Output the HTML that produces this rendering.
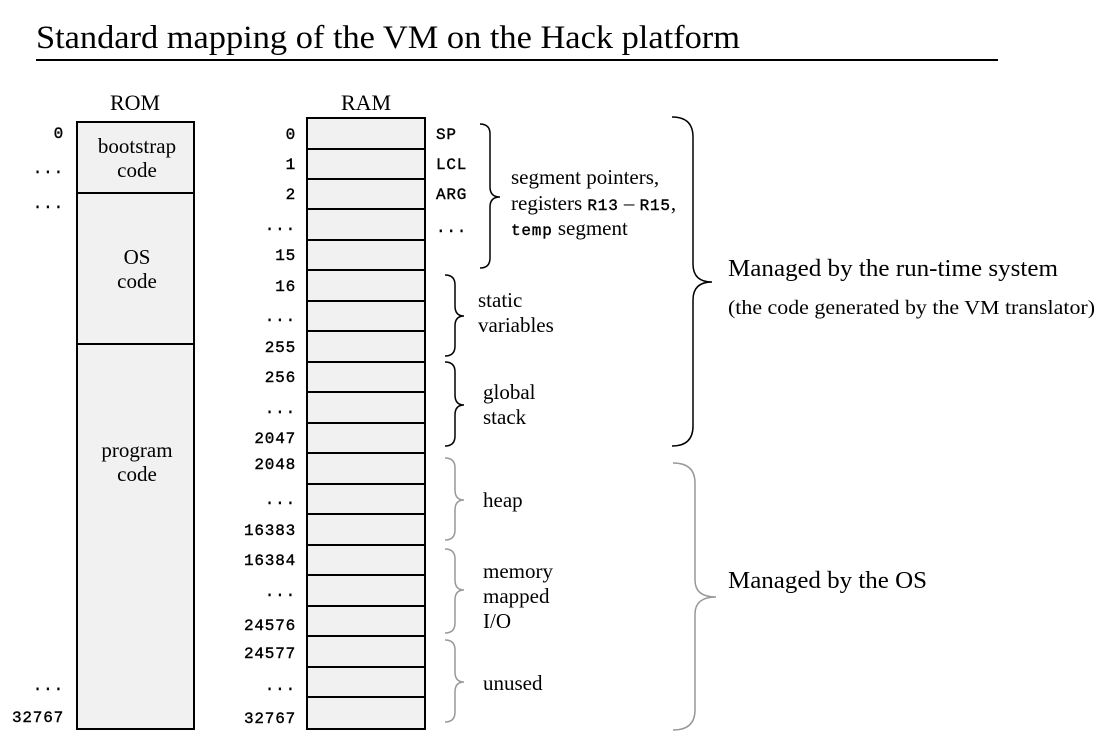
<!DOCTYPE html>
<html><head><meta charset="utf-8"><style>
body{margin:0;background:#fff;}
svg{display:block;}
.s{font-family:"Liberation Serif",serif;fill:#000;}
.m{font-family:"Liberation Mono",monospace;fill:#000;font-size:16px;letter-spacing:0.8px;stroke:#000;stroke-width:0.4px;}
</style></head><body>
<svg width="1109" height="752" viewBox="0 0 1109 752" xmlns="http://www.w3.org/2000/svg">
<text x="36" y="48" class="s" font-size="33" textLength="704" lengthAdjust="spacingAndGlyphs">Standard mapping of the VM on the Hack platform</text>
<line x1="36" y1="60" x2="998" y2="60" stroke="#000" stroke-width="2"/>
<text x="135" y="110" class="s" font-size="22" text-anchor="middle">ROM</text>
<text x="366" y="110" class="s" font-size="22" text-anchor="middle">RAM</text>
<!-- ROM -->
<rect x="77" y="122" width="117" height="607" fill="#f1f1f1" stroke="#000" stroke-width="2"/>
<line x1="77" y1="193" x2="194" y2="193" stroke="#000" stroke-width="2"/>
<line x1="77" y1="344" x2="194" y2="344" stroke="#000" stroke-width="2"/>
<g class="s" font-size="21" text-anchor="middle">
<text x="137" y="153">bootstrap</text><text x="137" y="177">code</text>
<text x="137" y="264">OS</text><text x="137" y="288">code</text>
<text x="137" y="457">program</text><text x="137" y="481">code</text>
</g>
<g class="m" text-anchor="end">
<text x="64" y="138">0</text><text x="64" y="173">...</text><text x="64" y="208">...</text>
<text x="64" y="690">...</text><text x="64" y="722">32767</text>
</g>
<!-- RAM -->
<rect x="307" y="118" width="118" height="611" fill="#f1f1f1" stroke="#000" stroke-width="2"/>
<g stroke="#000" stroke-width="2">
<line x1="307" y1="149" x2="425" y2="149"/><line x1="307" y1="179" x2="425" y2="179"/>
<line x1="307" y1="209" x2="425" y2="209"/><line x1="307" y1="240" x2="425" y2="240"/>
<line x1="307" y1="270" x2="425" y2="270"/><line x1="307" y1="301" x2="425" y2="301"/>
<line x1="307" y1="331" x2="425" y2="331"/><line x1="307" y1="362" x2="425" y2="362"/>
<line x1="307" y1="392" x2="425" y2="392"/><line x1="307" y1="423" x2="425" y2="423"/>
<line x1="307" y1="453" x2="425" y2="453"/><line x1="307" y1="484" x2="425" y2="484"/>
<line x1="307" y1="514" x2="425" y2="514"/><line x1="307" y1="545" x2="425" y2="545"/>
<line x1="307" y1="575" x2="425" y2="575"/><line x1="307" y1="606" x2="425" y2="606"/>
<line x1="307" y1="636" x2="425" y2="636"/><line x1="307" y1="667" x2="425" y2="667"/>
<line x1="307" y1="697" x2="425" y2="697"/>
</g>
<g class="m" text-anchor="end">
<text x="296" y="139">0</text><text x="296" y="169">1</text><text x="296" y="199">2</text>
<text x="296" y="230">...</text><text x="296" y="260">15</text><text x="296" y="291">16</text>
<text x="296" y="321">...</text><text x="296" y="352">255</text><text x="296" y="382">256</text>
<text x="296" y="413">...</text><text x="296" y="443">2047</text><text x="296" y="469">2048</text>
<text x="296" y="504">...</text><text x="296" y="535">16383</text><text x="296" y="565">16384</text>
<text x="296" y="596">...</text><text x="296" y="630">24576</text><text x="296" y="658">24577</text>
<text x="296" y="690">...</text><text x="296" y="723">32767</text>
</g>
<g class="m">
<text x="436" y="139">SP</text><text x="436" y="169">LCL</text><text x="436" y="199">ARG</text><text x="436" y="232">...</text>
</g>
<!-- braces -->
<g fill="none" stroke="#000" stroke-width="1.5">
<path d="M480 124 Q490 124 490 134 L490 187 Q490 197 500 197 Q490 197 490 207 L490 258 Q490 268 480 268"/>
<path d="M445 275 Q455 275 455 285 L455 306 Q455 316 464 316 Q455 316 455 326 L455 346 Q455 356 445 356"/>
<path d="M445 362 Q455 362 455 372 L455 395 Q455 405 464 405 Q455 405 455 415 L455 436 Q455 446 445 446"/>
<path d="M672 117 Q693 117 693 137 L693 264 Q693 282 712 282 Q693 282 693 300 L693 426 Q693 446 672 446"/>
</g>
<g fill="none" stroke="#999" stroke-width="1.5">
<path d="M445 458 Q455 458 455 468 L455 490 Q455 500 464 500 Q455 500 455 510 L455 530 Q455 540 445 540"/>
<path d="M445 549 Q455 549 455 559 L455 580 Q455 590 464 590 Q455 590 455 600 L455 623 Q455 633 445 633"/>
<path d="M445 640 Q455 640 455 650 L455 672 Q455 682 464 682 Q455 682 455 692 L455 712 Q455 722 445 722"/>
<path d="M673 463 Q695 463 695 483 L695 580 Q695 597 716 597 Q695 597 695 614 L695 710 Q695 730 673 730"/>
</g>
<g class="s" font-size="21">
<text x="511" y="184">segment pointers,</text>
<text x="511" y="210">registers <tspan class="m" font-size="17" letter-spacing="0">R13</tspan> – <tspan class="m" font-size="17" letter-spacing="0">R15</tspan>,</text>
<text x="511" y="235"><tspan class="m" font-size="17" letter-spacing="0">temp</tspan> segment</text>
<text x="478" y="307">static</text><text x="478" y="332">variables</text>
<text x="483" y="399">global</text><text x="483" y="424">stack</text>
<text x="483" y="507">heap</text>
<text x="483" y="578">memory</text><text x="483" y="603">mapped</text><text x="483" y="628">I/O</text>
<text x="483" y="690">unused</text>
<text x="728" y="276" font-size="24" textLength="330" lengthAdjust="spacingAndGlyphs">Managed by the run-time system</text>
<text x="728" y="314" font-size="20" textLength="367" lengthAdjust="spacingAndGlyphs">(the code generated by the VM translator)</text>
<text x="728" y="588" font-size="24" textLength="199" lengthAdjust="spacingAndGlyphs">Managed by the OS</text>
</g>
</svg>
</body></html>
